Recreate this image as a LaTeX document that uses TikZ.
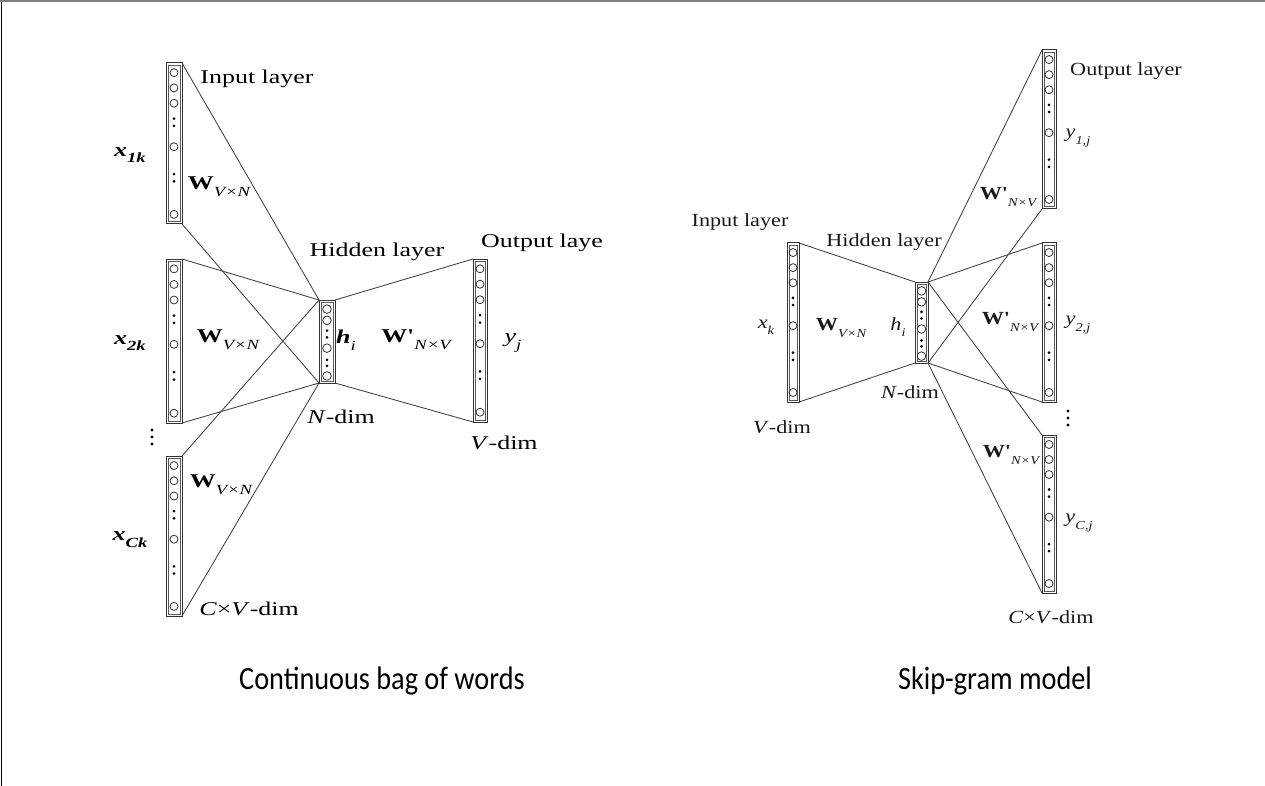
\documentclass[tikz,border=0pt]{standalone}
\usepackage{fontspec}
\usetikzlibrary{calc}
\newfontfamily\cbfont[FakeStretch=1.33]{Liberation Serif}
\newfontfamily\sgfont[FakeStretch=1.2]{Liberation Serif}
\newfontfamily\capfont[FakeStretch=0.87]{Carlito}

% subscript helper: lowered small italic text
\newcommand{\lowsub}[2]{\raisebox{-0.35em}{\fontsize{#1}{#1}\selectfont\itshape #2}}

% a vector of units: name, x1, y1, x2, y2 (outer box)
\newcommand{\vecbox}[5]{%
  \node[layerbox, minimum width={(#4-#2)*1pt}, minimum height={(#5-#3)*1pt}] (#1) at ({(#2+#4)/2},{(#3+#5)/2}) {};
  \draw[innerline] ($(#1.north west)+(2.2,2.2)$) rectangle ($(#1.south east)+(-2.2,-2.2)$);
  \foreach \f in {0.06,0.155,0.25,0.52,0.94}
    \draw[unitring] ($(#1.north)!\f!(#1.south)$) circle[radius=4];
  \foreach \f in {0.345,0.39,0.69,0.735}
    \fill[black] ($(#1.north)!\f!(#1.south)$) circle[radius=1.5];
}
% the hidden vector
\newcommand{\hidbox}[5]{%
  \node[layerbox, minimum width={(#4-#2)*1pt}, minimum height={(#5-#3)*1pt}] (#1) at ({(#2+#4)/2},{(#3+#5)/2}) {};
  \draw[innerline] ($(#1.north west)+(2.2,2.2)$) rectangle ($(#1.south east)+(-2.2,-2.2)$);
  \foreach \f in {0.11,0.245,0.58,0.915}
    \draw[unitring] ($(#1.north)!\f!(#1.south)$) circle[radius=4.3];
  \foreach \f in {0.37,0.45,0.72,0.795}
    \fill[black] ($(#1.north)!\f!(#1.south)$) circle[radius=1.5];
}

\begin{document}
\begin{tikzpicture}[x=1pt,y=-1pt,
  layerbox/.style={draw=black!80, line width=1pt, inner sep=0pt, outer sep=0pt},
  innerline/.style={draw=black!65, line width=0.6pt},
  unitring/.style={draw=black!80, line width=0.8pt},
  wire/.style={draw=black!75, line width=0.85pt},
  cbtext/.style={font=\cbfont\fontsize{19.5}{20}\selectfont, text=black, inner sep=0pt},
  sgtext/.style={font=\sgfont\fontsize{18.5}{19}\selectfont, text=black!90, inner sep=0pt},
  captext/.style={font=\capfont\fontsize{32.5}{34}\selectfont, text=black, inner sep=0pt, anchor=base}]
\useasboundingbox (0,0) rectangle (1265,786);
\fill[white] (0,0) rectangle (1265,786);

% frame
\draw[black!50, line width=2pt] (0,1) -- (1265,1);
\draw[black, line width=1.5pt] (1.5,2) -- (1.5,786);

% ---------------- Continuous bag of words ----------------
\vecbox{in1}{166}{63}{182}{224}
\vecbox{in2}{166}{259}{182}{423}
\vecbox{in3}{166}{456}{182}{616}
\hidbox{hid}{319}{300}{335}{383}
\vecbox{out}{473}{259}{487}{422}

\foreach \n in {in1,in2,in3}{
  \draw[wire] (\n.north east) -- (hid.north west);
  \draw[wire] (\n.south east) -- (hid.south west);
}
\draw[wire] (hid.north east) -- (out.north west);
\draw[wire] (hid.south east) -- (out.south west);

\foreach \y in {430,437,444} \fill[black] (152,\y) circle[radius=1.6];

\node[cbtext] (cin) at (257,79) {Input layer};
\node[cbtext] (cx1) at (130,155) {\textbf{\textit{x}}\lowsub{14}{\bfseries 1k}};
\node[cbtext] (cw1) at (219,187) {\textbf{W}\lowsub{14}{V×N}};
\node[cbtext] (cx2) at (130,343) {\textbf{\textit{x}}\lowsub{14}{\bfseries 2k}};
\node[cbtext] (cw2) at (228,340) {\textbf{W}\lowsub{14}{V×N}};
\node[cbtext] (cw3) at (221,485) {\textbf{W}\lowsub{14}{V×N}};
\node[cbtext] (cxc) at (130,540) {\textbf{\textit{x}}\lowsub{14}{\bfseries Ck}};
\node[cbtext] (ccv) at (249,609) {\textit{C}×\textit{V}-dim};
\node[cbtext] (chl) at (377,252) {Hidden layer};
\begin{scope}
  \clip (470,225) rectangle (601,262);
  \node[cbtext, anchor=west] (col) at (481,243) {Output laye};
\end{scope}
\node[cbtext] (chi) at (346,340) {\textbf{\textit{h}}\lowsub{14}{i}};
\node[cbtext] (cwp) at (416,340) {\textbf{W'}\lowsub{14}{N×V}};
\node[cbtext] (cyj) at (513,343) {\textit{y}\lowsub{14}{j}};
\node[cbtext] (cnd) at (341,417) {\textit{N}-dim};
\node[cbtext] (cvd) at (504,443) {\textit{V}-dim};

% ---------------- Skip-gram model ----------------
\vecbox{sin}{787}{243}{799}{402}
\hidbox{shid}{915}{282}{928}{363}
\vecbox{so1}{1042}{50}{1056}{209}
\vecbox{so2}{1042}{243}{1056}{402}
\vecbox{so3}{1042}{435}{1056}{593}

\draw[wire] (sin.north east) -- (shid.north west);
\draw[wire] (sin.south east) -- (shid.south west);
\foreach \n in {so1,so2,so3}{
  \draw[wire] (shid.north east) -- (\n.north west);
  \draw[wire] (shid.south east) -- (\n.south west);
}

\foreach \y in {411,418,425} \fill[black] (1068,\y) circle[radius=1.6];

\node[sgtext] (sil) at (740,222) {Input layer};
\node[sgtext] (shl) at (884,242) {Hidden layer};
\node[sgtext] (sxk) at (766,327) {\textit{x}\lowsub{12}{k}};
\node[sgtext] (sw) at (841,328) {\textbf{W}\lowsub{12}{V×N}};
\node[sgtext] (shi) at (898,327) {\textit{h}\lowsub{12}{i}};
\node[sgtext] (snd) at (910,392) {\textit{N}-dim};
\node[sgtext] (svd) at (782,427) {\textit{V}-dim};
\node[sgtext] (sol) at (1126,71) {Output layer};
\node[sgtext] (sy1) at (1078,138) {\textit{y}\lowsub{12}{1,j}};
\node[sgtext] (sw1) at (1008,197) {\textbf{W'}\lowsub{12}{N×V}};
\node[sgtext] (sw2) at (1010,322) {\textbf{W'}\lowsub{12}{N×V}};
\node[sgtext] (sy2) at (1078,325) {\textit{y}\lowsub{12}{2,j}};
\node[sgtext] (sw3) at (1011,455) {\textbf{W'}\lowsub{12}{N×V}};
\node[sgtext] (syc) at (1079,523) {\textit{y}\lowsub{12}{C,j}};
\node[sgtext] (scv) at (1051,617) {\textit{C}×\textit{V}-dim};

% captions
\node[captext] (cbow) at (382,689) {Continuous bag of words};
\node[captext] (skip) at (995,689) {Skip-gram model};
\end{tikzpicture}
\end{document}
